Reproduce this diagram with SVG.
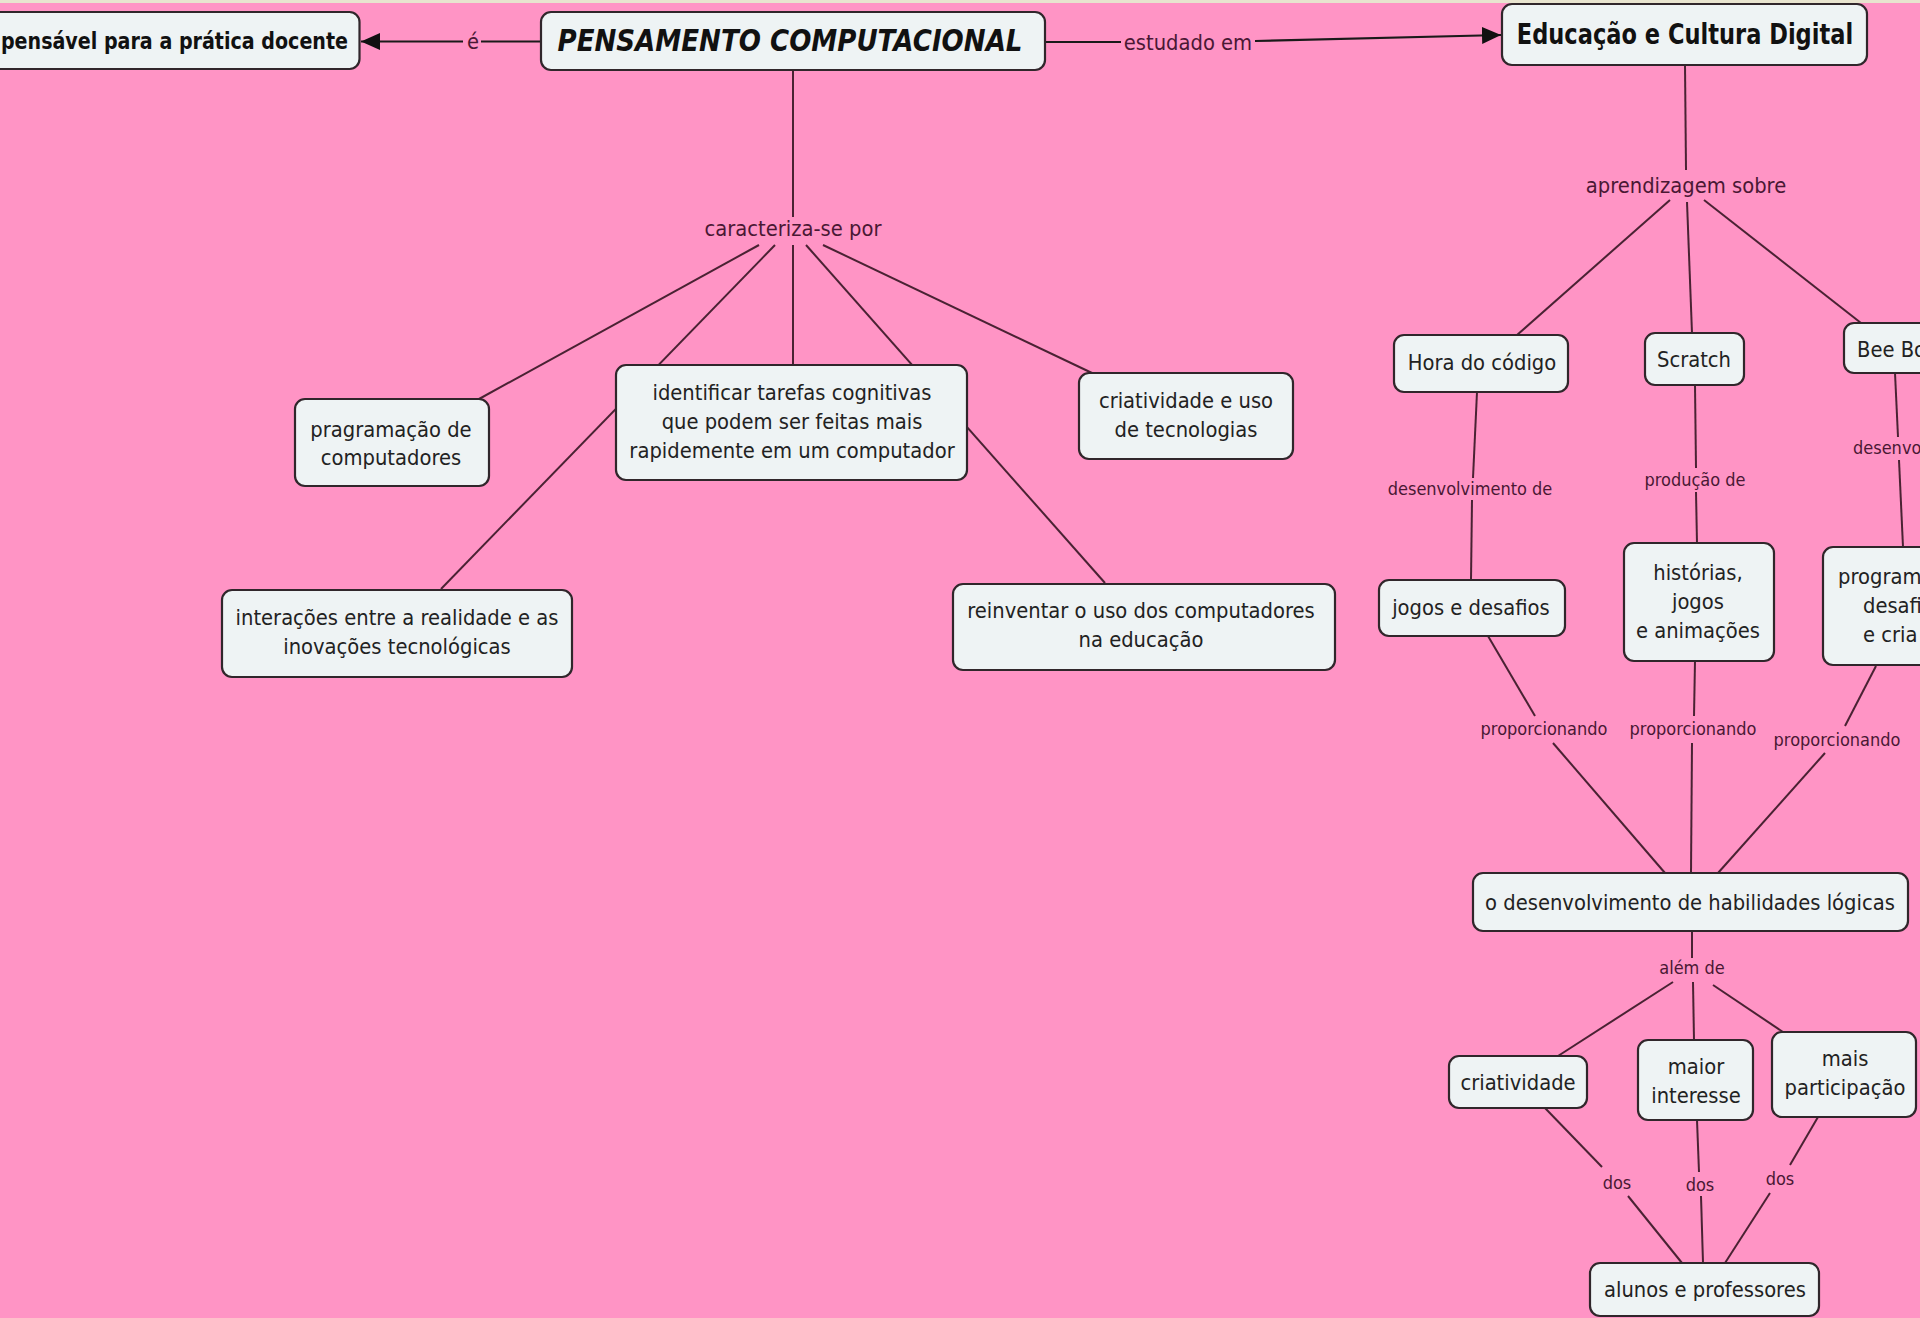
<svg xmlns="http://www.w3.org/2000/svg" width="1920" height="1318" viewBox="0 0 1920 1318">
<defs>
<style>
.bg{fill:#ff94c5}
.strip{fill:#e8e4cf}
.box{fill:#eef3f4;stroke:#30262b;stroke-width:2.2}
.c{stroke:#4a2233;stroke-width:2;fill:none}
.a{stroke:#1a1a1a;stroke-width:2.2;fill:none}
text{font-family:"DejaVu Sans",Verdana,sans-serif;transform-box:fill-box;transform-origin:50% 50%}
.n{font-size:21.5px;fill:#222;text-anchor:middle;transform:scaleX(0.91)}
.ns{font-size:21.5px;fill:#222;text-anchor:start;transform-origin:0% 50%;transform:scaleX(0.91)}
.l{font-size:21.5px;fill:#4a1834;text-anchor:middle;transform:scaleX(0.91)}
.s{font-size:18px;fill:#4a1834;text-anchor:middle;transform:scaleX(0.9)}
.ss{font-size:18px;fill:#4a1834;text-anchor:start;transform-origin:0% 50%;transform:scaleX(0.9)}
.pc{font-size:30px;font-weight:bold;font-style:italic;fill:#111;text-anchor:middle;transform:scaleX(0.87)}
.ecd{font-size:27.5px;font-weight:bold;fill:#111;text-anchor:middle;transform:scaleX(0.82)}
.ind{font-size:23px;font-weight:bold;fill:#111;text-anchor:end;transform-origin:100% 50%;transform:scaleX(0.83)}
</style>
<marker id="arr" markerUnits="userSpaceOnUse" markerWidth="19" markerHeight="17" viewBox="0 0 19 17" refX="19" refY="8.5" orient="auto">
<path d="M0,0 L19,8.5 L0,17 z" fill="#111"/>
</marker>
</defs>
<rect class="bg" x="0" y="0" width="1920" height="1318"/>
<rect class="strip" x="0" y="0" width="1920" height="3"/>

<g id="connectors">
<line class="a" x1="541" y1="41.5" x2="481" y2="41.5"/>
<line class="a" x1="463" y1="41.5" x2="361" y2="41.5" marker-end="url(#arr)"/>
<text class="l" x="473" y="49">é</text>
<line class="a" x1="1046" y1="42" x2="1121" y2="42"/>
<line class="a" x1="1255" y1="41" x2="1501" y2="35" marker-end="url(#arr)"/>
<text class="l" x="1188" y="50">estudado em</text>

<line class="c" x1="793" y1="70" x2="793" y2="217"/>
<text class="l" x="793" y="236">caracteriza-se por</text>
<line class="c" x1="759" y1="245" x2="479" y2="399"/>
<line class="c" x1="775" y1="245" x2="441" y2="589"/>
<line class="c" x1="793" y1="245" x2="793" y2="365"/>
<line class="c" x1="806" y1="245" x2="1105" y2="583"/>
<line class="c" x1="823" y1="245" x2="1092" y2="373"/>

<line class="c" x1="1685" y1="65" x2="1686" y2="170"/>
<text class="l" x="1686" y="193">aprendizagem sobre</text>
<line class="c" x1="1670" y1="200" x2="1517" y2="335"/>
<line class="c" x1="1687" y1="202" x2="1692" y2="333"/>
<line class="c" x1="1704" y1="200" x2="1861" y2="323"/>

<line class="c" x1="1477" y1="392" x2="1473" y2="478"/>
<text class="s" x="1470" y="495">desenvolvimento de</text>
<line class="c" x1="1472" y1="500" x2="1471" y2="580"/>

<line class="c" x1="1695" y1="385" x2="1696" y2="468"/>
<text class="s" x="1695" y="486">produção de</text>
<line class="c" x1="1696" y1="492" x2="1697" y2="543"/>

<line class="c" x1="1895" y1="373" x2="1898" y2="437"/>
<text class="ss" x="1853" y="454">desenvol</text>
<line class="c" x1="1899" y1="460" x2="1903" y2="547"/>

<line class="c" x1="1488" y1="636" x2="1535" y2="716"/>
<text class="s" x="1544" y="735">proporcionando</text>
<line class="c" x1="1553" y1="743" x2="1665" y2="873"/>

<line class="c" x1="1695" y1="661" x2="1694" y2="716"/>
<text class="s" x="1693" y="735">proporcionando</text>
<line class="c" x1="1692" y1="743" x2="1691" y2="873"/>

<line class="c" x1="1876" y1="666" x2="1845" y2="726"/>
<text class="s" x="1837" y="746">proporcionando</text>
<line class="c" x1="1825" y1="753" x2="1718" y2="873"/>

<line class="c" x1="1692" y1="931" x2="1692" y2="958"/>
<text class="s" x="1692" y="974">além de</text>
<line class="c" x1="1673" y1="982" x2="1558" y2="1056"/>
<line class="c" x1="1693" y1="982" x2="1694" y2="1040"/>
<line class="c" x1="1713" y1="985" x2="1783" y2="1032"/>

<line class="c" x1="1545" y1="1108" x2="1602" y2="1167"/>
<text class="s" x="1617" y="1189">dos</text>
<line class="c" x1="1628" y1="1196" x2="1682" y2="1263"/>

<line class="c" x1="1697" y1="1120" x2="1699" y2="1172"/>
<text class="s" x="1700" y="1191">dos</text>
<line class="c" x1="1701" y1="1196" x2="1703" y2="1263"/>

<line class="c" x1="1818" y1="1117" x2="1790" y2="1165"/>
<text class="s" x="1780" y="1185">dos</text>
<line class="c" x1="1770" y1="1193" x2="1725" y2="1263"/>
</g>

<g id="node-indispensavel">
<rect class="box" x="-20" y="12" width="379.5" height="57" rx="10"/>
<text class="ind" x="348" y="49">pensável para a prática docente</text>
</g>
<g id="node-pensamento">
<rect class="box" x="541" y="12" width="504" height="58" rx="10"/>
<text class="pc" x="790" y="51">PENSAMENTO COMPUTACIONAL</text>
</g>
<g id="node-educacao">
<rect class="box" x="1502" y="4" width="365" height="61" rx="10"/>
<text class="ecd" x="1685" y="44">Educação e Cultura Digital</text>
</g>
<g id="node-pragramacao">
<rect class="box" x="295" y="399" width="194" height="87" rx="10"/>
<text class="n" x="391" y="437">pragramação de</text>
<text class="n" x="391" y="465">computadores</text>
</g>
<g id="node-identificar">
<rect class="box" x="616" y="365" width="351" height="115" rx="10"/>
<text class="n" x="792" y="400">identificar tarefas cognitivas</text>
<text class="n" x="792" y="429">que podem ser feitas mais</text>
<text class="n" x="792" y="458">rapidemente em um computador</text>
</g>
<g id="node-criatividade-uso">
<rect class="box" x="1079" y="373" width="214" height="86" rx="10"/>
<text class="n" x="1186" y="408">criatividade e uso</text>
<text class="n" x="1186" y="437">de tecnologias</text>
</g>
<g id="node-interacoes">
<rect class="box" x="222" y="590" width="350" height="87" rx="10"/>
<text class="n" x="397" y="625">interações entre a realidade e as</text>
<text class="n" x="397" y="654">inovações tecnológicas</text>
</g>
<g id="node-reinventar">
<rect class="box" x="953" y="584" width="382" height="86" rx="10"/>
<text class="n" x="1141" y="618">reinventar o uso dos computadores</text>
<text class="n" x="1141" y="647">na educação</text>
</g>
<g id="node-hora">
<rect class="box" x="1394" y="335" width="174" height="57" rx="10"/>
<text class="n" x="1482" y="370">Hora do código</text>
</g>
<g id="node-scratch">
<rect class="box" x="1645" y="333" width="99" height="52" rx="10"/>
<text class="n" x="1694" y="367">Scratch</text>
</g>
<g id="node-beebot">
<rect class="box" x="1844" y="323" width="120" height="50" rx="10"/>
<text class="ns" x="1857" y="357">Bee Bo</text>
</g>
<g id="node-jogos">
<rect class="box" x="1379" y="580" width="186" height="56" rx="10"/>
<text class="n" x="1471" y="615">jogos e desafios</text>
</g>
<g id="node-historias">
<rect class="box" x="1624" y="543" width="150" height="118" rx="10"/>
<text class="n" x="1698" y="580">histórias,</text>
<text class="n" x="1698" y="609">jogos</text>
<text class="n" x="1698" y="638">e animações</text>
</g>
<g id="node-programacao">
<rect class="box" x="1823" y="547" width="140" height="118" rx="10"/>
<text class="ns" x="1838" y="584">program</text>
<text class="ns" x="1863" y="613">desafi</text>
<text class="ns" x="1863" y="642">e cria</text>
</g>
<g id="node-habilidades">
<rect class="box" x="1473" y="873" width="435" height="58" rx="10"/>
<text class="n" x="1690" y="910">o desenvolvimento de habilidades lógicas</text>
</g>
<g id="node-criatividade">
<rect class="box" x="1449" y="1056" width="138" height="52" rx="10"/>
<text class="n" x="1518" y="1090">criatividade</text>
</g>
<g id="node-maior-interesse">
<rect class="box" x="1638" y="1040" width="115" height="80" rx="10"/>
<text class="n" x="1696" y="1074">maior</text>
<text class="n" x="1696" y="1103">interesse</text>
</g>
<g id="node-mais-participacao">
<rect class="box" x="1772" y="1032" width="144" height="85" rx="10"/>
<text class="n" x="1845" y="1066">mais</text>
<text class="n" x="1845" y="1095">participação</text>
</g>
<g id="node-alunos">
<rect class="box" x="1590" y="1263" width="229" height="53" rx="10"/>
<text class="n" x="1705" y="1297">alunos e professores</text>
</g>
</svg>
